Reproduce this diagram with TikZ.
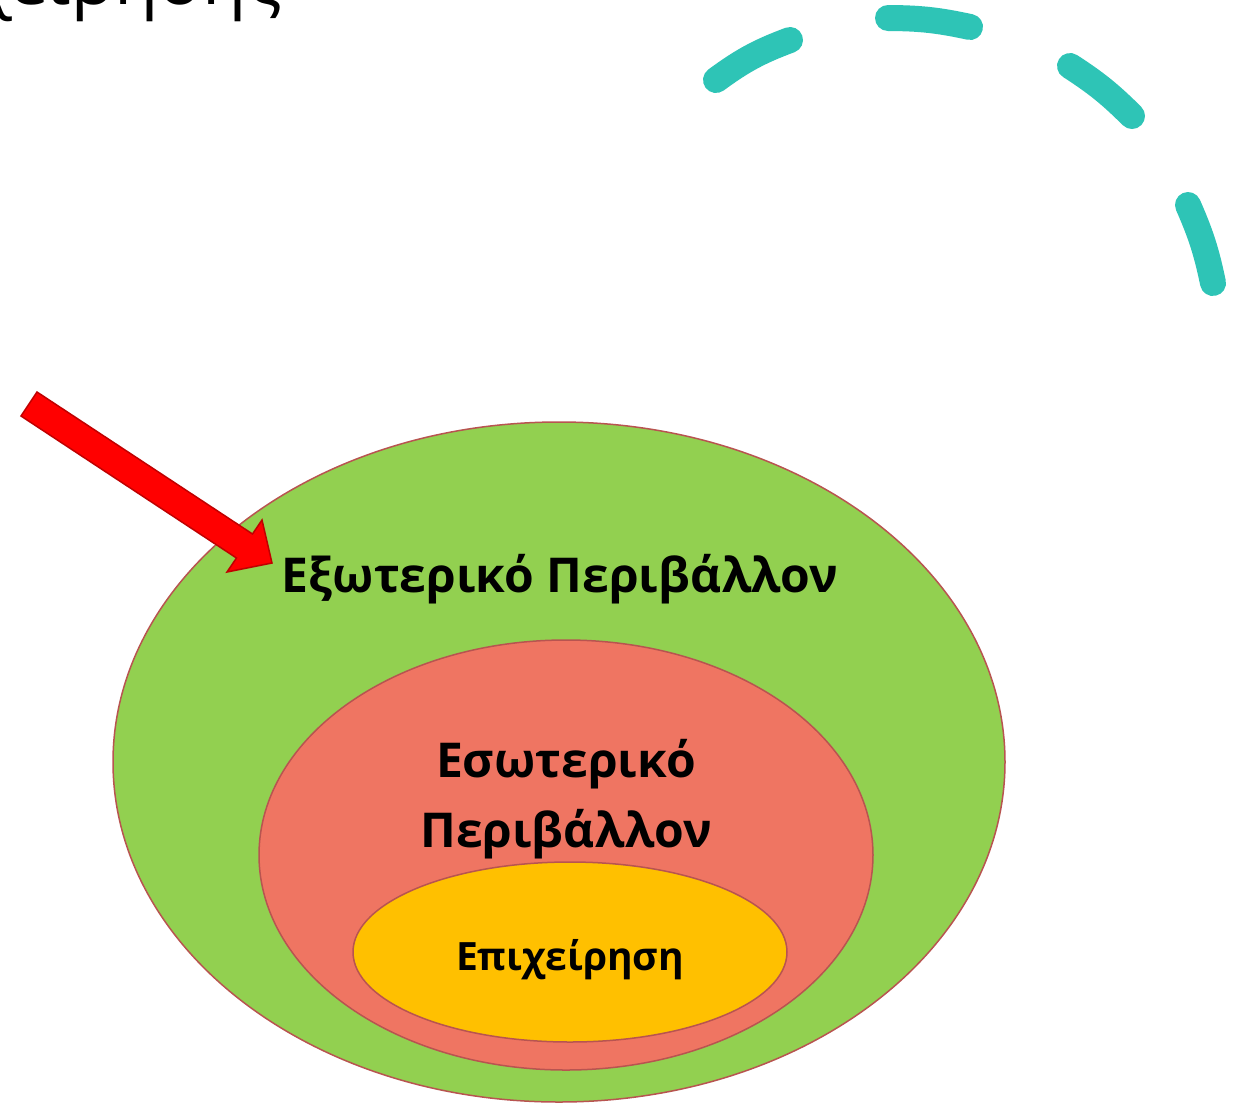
\documentclass[tikz,border=0pt]{standalone}
\usepackage{fontspec}
\setmainfont{Open Sans}
\usetikzlibrary{shapes.geometric}

\definecolor{envgreen}{HTML}{92D050}
\definecolor{envred}{HTML}{EF7562}
\definecolor{envyellow}{HTML}{FFC000}
\definecolor{envline}{HTML}{B85450}
\definecolor{dashteal}{HTML}{2EC4B6}
\definecolor{arrowline}{HTML}{C00000}

\tikzstyle{layer} = [ draw=envline,line width=1.5pt,ellipse,inner sep=0pt ]
\tikzstyle{label} = [ font=\bfseries\fontsize{48}{70}\selectfont,align=center ]
\tikzstyle{dashpiece} = [ draw=dashteal,line width=26pt,line cap=round ]

\begin{document}
\begin{tikzpicture}[x=1pt,y=1pt]
  \fill[white] (0,0) rectangle (1248,-1104);
  \useasboundingbox (0,0) rectangle (1248,-1104);
  \clip (0,0) rectangle (1248,-1104);

  % cut-off title
  \node[anchor=base east,inner sep=0pt,font=\fontsize{72}{86}\selectfont] (title) at (282,-4) {Επιχείρησης};

  % three environments
  \node[layer,fill=envgreen,minimum width=892,minimum height=680] at (559,-762) (outer) {};
  \node[layer,fill=envred,minimum width=614,minimum height=430] at (566,-855) (inner) {};
  \node[layer,fill=envyellow,minimum width=434,minimum height=180] at (570,-952) (core) {};

  \node[label,anchor=base] at (560,-592) (outerlbl) {Εξωτερικό Περιβάλλον};
  \node[label,anchor=base] at (566,-847) (innerlbl) {Εσωτερικό\\Περιβάλλον};
  \node[label,anchor=base,font=\bfseries\fontsize{39}{48}\selectfont] at (570,-970) (corelbl) {Επιχείρηση};

  % red block arrow
  \draw[fill=red,draw=arrowline,line width=1.5pt,line join=miter]
    (37,-392) -- (252.5,-534) -- (262,-520) -- (272,-563)
    -- (227,-572) -- (236.5,-558) -- (21,-416) -- cycle;

  % dashed arc
  \draw[dashpiece] (716,-80) to[bend left=8] (790,-40);
  \draw[dashpiece] (888,-18) to[bend left=6] (970,-27);
  \draw[dashpiece] (1070,-66) to[bend left=6] (1132,-116);
  \draw[dashpiece] (1188,-205) to[bend left=6] (1213,-283);
\end{tikzpicture}
\end{document}
